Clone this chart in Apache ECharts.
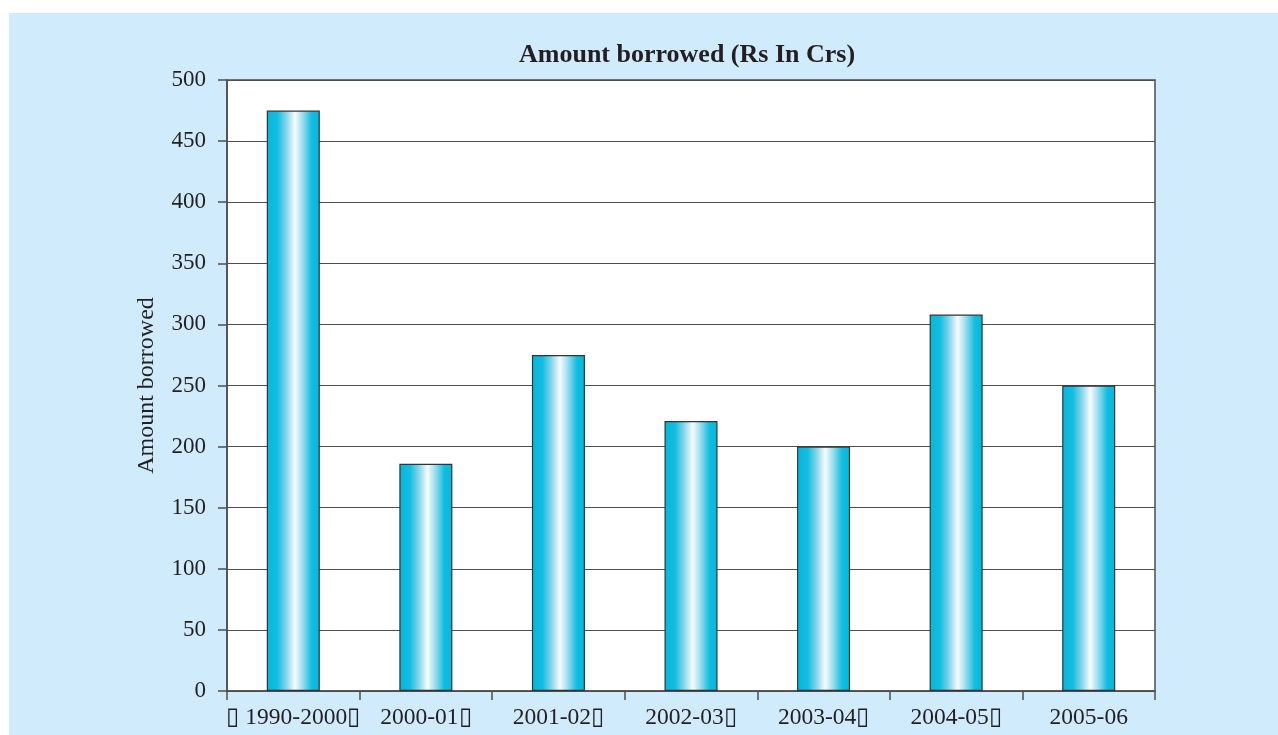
<!DOCTYPE html>
<html>
<head>
<meta charset="utf-8">
<script src="https://cdn.jsdelivr.net/npm/echarts@6/dist/echarts.min.js"></script>
<style>
  html, body { margin: 0; padding: 0; background: #ffffff; }
  #chart { position: absolute; left: 9px; top: 13px; width: 1269px; height: 722px; }
</style>
</head>
<body>
<div id="chart"></div>
<script>
// Amount borrowed per year (Rs In Crs)
const years = ['\u25AF 1990-2000\u25AF', '2000-01\u25AF', '2001-02\u25AF', '2002-03\u25AF',
               '2003-04\u25AF', '2004-05\u25AF', '2005-06'];
const borrowed = [475, 186, 275, 221, 200, 308, 250];

const INK = '#231f20';
const RULE = '#4d4d4d';
const FONT = '"Liberation Serif", "Times New Roman", serif';

// cyan → white → cyan, across the bar
const barFill = new echarts.graphic.LinearGradient(0, 0, 1, 0, [
    { offset: 0.00, color: '#00b9de' },
    { offset: 0.20, color: '#14bde0' },
    { offset: 0.38, color: '#8ed7eb' },
    { offset: 0.53, color: '#f7fcfe' },
    { offset: 0.67, color: '#a0deee' },
    { offset: 0.85, color: '#10bde0' },
    { offset: 1.00, color: '#00b9de' }
]);

const chart = echarts.init(document.getElementById('chart'));
chart.setOption({
    animation: false,
    backgroundColor: '#d0ebfc',
    title: {
        text: 'Amount borrowed (Rs In Crs)',
        left: 505,
        top: 24,
        textStyle: { fontFamily: FONT, fontSize: 26, fontWeight: 'bold', color: INK }
    },
    grid: {
        left: 218, right: 123, top: 67, bottom: 44,
        show: true,
        backgroundColor: '#ffffff',
        borderColor: RULE,
        borderWidth: 1.5
    },
    xAxis: {
        type: 'category',
        data: years,
        boundaryGap: true,
        axisLine: { lineStyle: { color: RULE, width: 1.5 } },
        axisTick: { show: true, alignWithLabel: false, length: 9, lineStyle: { color: RULE, width: 1.5 } },
        axisLabel: { margin: 15, color: INK, fontFamily: FONT, fontSize: 23.5, interval: 0 }
    },
    yAxis: {
        type: 'value',
        min: 0,
        max: 500,
        interval: 50,
        name: 'Amount borrowed',
        nameLocation: 'middle',
        nameGap: 68,
        nameRotate: 90,
        nameTextStyle: { fontFamily: FONT, fontSize: 24, color: INK },
        axisLine: { show: true, lineStyle: { color: RULE, width: 1.5 } },
        axisTick: { show: true, length: 9, lineStyle: { color: RULE, width: 1.5 } },
        axisLabel: { margin: 21, color: INK, fontFamily: FONT, fontSize: 23 },
        splitLine: { show: true, lineStyle: { color: RULE, width: 1 } }
    },
    series: [{
        type: 'bar',
        data: borrowed,
        barWidth: '40%',
        itemStyle: { color: barFill, borderColor: '#333333', borderWidth: 1.2 },
        emphasis: { disabled: true }
    }]
});
</script>
</body>
</html>
